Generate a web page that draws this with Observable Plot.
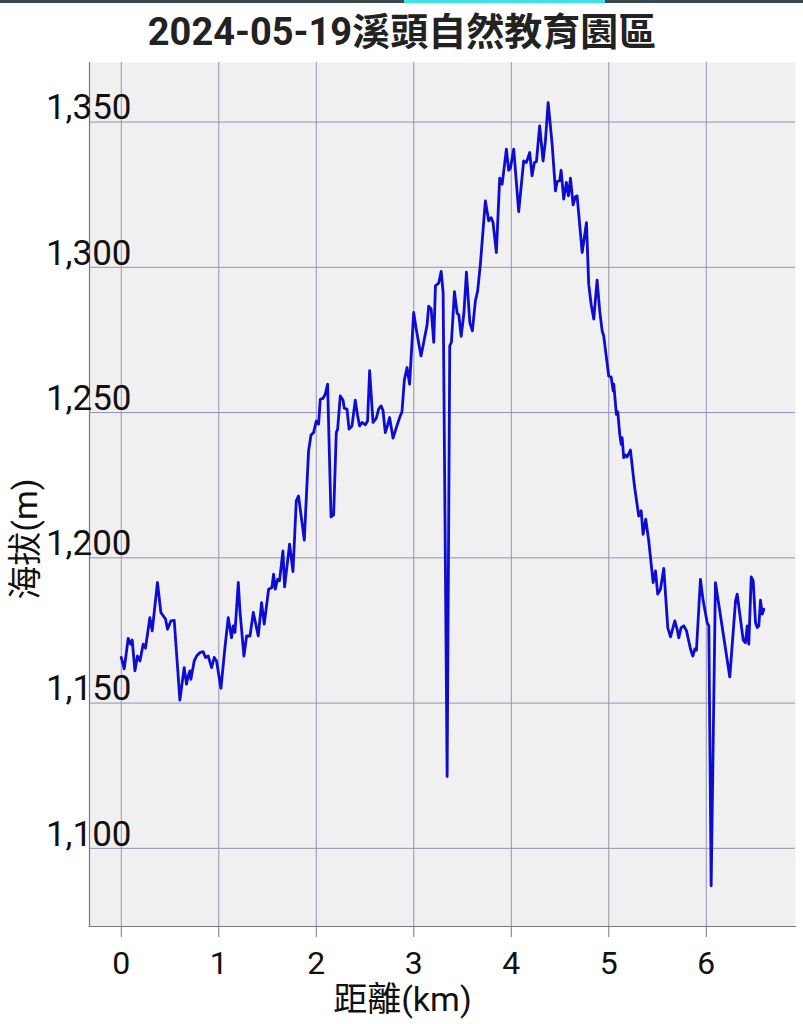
<!DOCTYPE html>
<html>
<head>
<meta charset="utf-8">
<script src="https://cdn.jsdelivr.net/npm/d3@7"></script>
<script src="https://cdn.jsdelivr.net/npm/@observablehq/plot@0.6"></script>
<style>
  html, body { margin: 0; padding: 0; background: #fff; }
  #wrap { position: relative; width: 803px; height: 1024px; overflow: hidden; }
  #bar { position: absolute; left: 0; top: 0; width: 803px; height: 3px; background: #3c4850; z-index: 2; }
  #bar span { position: absolute; left: 404px; width: 201px; top: 0; height: 3px; background: #3fe3e6; }
  #ylab { position: absolute; left: 25px; top: 539px; transform: translate(-50%, -50%) rotate(-90deg);
          font-family: Roboto, 'Noto Sans CJK TC', sans-serif; font-size: 34px; color: #111;
          white-space: nowrap; line-height: 1; z-index: 2; }
</style>
</head>
<body>
<div id="wrap"><div id="bar"><span></span></div><div id="ylab"></div></div>
<script>
const titleText = "2024-05-19溪頭自然教育園區";
const xLabelText = "距離(km)";
const yLabelText = "海拔(m)";
const xTicks = [0, 1, 2, 3, 4, 5, 6];
const yTicks = [1100, 1150, 1200, 1250, 1300, 1350];

const distanceKm = [
  0, 0.030, 0.071, 0.094, 0.112, 0.140, 0.166, 0.191, 0.225, 0.248,
  0.293, 0.317, 0.371, 0.406, 0.454, 0.474, 0.509, 0.543, 0.601, 0.645,
  0.669, 0.687, 0.704, 0.714, 0.748, 0.772, 0.807, 0.840, 0.864, 0.892,
  0.926, 0.953, 0.977, 1.022, 1.063, 1.097, 1.131, 1.148, 1.166, 1.200,
  1.217, 1.258, 1.285, 1.320, 1.354, 1.405, 1.439, 1.466, 1.511,
  1.545, 1.562, 1.579, 1.603, 1.623, 1.658, 1.675, 1.726, 1.761, 1.795,
  1.818, 1.877, 1.921, 1.946, 1.972, 2.000, 2.024, 2.041, 2.069, 2.092,
  2.116, 2.151, 2.178, 2.205, 2.219, 2.246, 2.274, 2.287, 2.315, 2.336,
  2.366, 2.400, 2.424, 2.444, 2.469, 2.503, 2.526, 2.547, 2.582, 2.616,
  2.639, 2.664, 2.684, 2.708, 2.732, 2.752, 2.787, 2.821, 2.855, 2.879,
  2.903, 2.931, 2.957,
  2.999, 3.027, 3.074, 3.102, 3.136, 3.153, 3.178, 3.205, 3.222, 3.256,
  3.281, 3.301, 3.342, 3.369, 3.386, 3.417, 3.445, 3.462, 3.486, 3.514, 3.540,
  3.575, 3.601, 3.632, 3.655, 3.683, 3.734, 3.768, 3.793, 3.813, 3.847,
  3.881, 3.906, 3.950, 3.973, 3.991, 4.025, 4.076, 4.127, 4.155, 4.189,
  4.213, 4.237, 4.258, 4.291, 4.326, 4.350, 4.378, 4.419, 4.453, 4.470,
  4.497, 4.511, 4.538, 4.565, 4.586, 4.607, 4.634, 4.658, 4.675, 4.727, 4.771,
  4.794, 4.819, 4.846, 4.880, 4.907, 4.932, 4.948, 4.966, 4.976, 4.999,
  5.024, 5.045, 5.051, 5.078, 5.092, 5.112, 5.127, 5.137, 5.153, 5.171,
  5.188, 5.222, 5.263, 5.307, 5.332, 5.352, 5.379, 5.410,
  5.455, 5.479, 5.502, 5.530, 5.564, 5.605, 5.633, 5.677, 5.701, 5.718,
  5.742, 5.769, 5.797, 5.838, 5.862, 5.882, 5.899, 5.940, 5.968, 6.009,
  6.026, 6.050, 6.094, 6.241, 6.300, 6.317, 6.344, 6.379, 6.402, 6.420,
  6.436, 6.461, 6.481, 6.505, 6.522, 6.539, 6.556, 6.574, 6.590
];

const elevationM = [
  1165.7, 1161.8, 1172.3, 1170.3, 1171.7, 1161.1, 1166.2, 1164.5, 1170.3, 1168.9,
  1179.4, 1174.9, 1191.5, 1181.2, 1178.9, 1175.4, 1178.3, 1178.5, 1151.0, 1162.2,
  1156.5, 1159.4, 1161.1, 1158.2, 1164.5, 1166.2, 1167.4, 1167.7, 1165.7, 1166.2,
  1162.2, 1165.7, 1164.5, 1155.1, 1169.1, 1179.4, 1172.5, 1176.6, 1174.3, 1191.5,
  1181.7, 1166.2, 1173.1, 1173.1, 1181.2, 1173.1, 1184.6, 1177.2, 1189.2,
  1189.8, 1194.4, 1189.2, 1192.6, 1192.1, 1202.4, 1190.0, 1204.7, 1195.3, 1219.6,
  1221.3, 1206.1, 1236.8, 1242.3, 1243.1, 1247.1, 1246.0, 1254.6, 1254.9, 1256.3,
  1259.8, 1214.1, 1214.8, 1243.1, 1244.3, 1255.7, 1254.3, 1251.5, 1251.2, 1244.3,
  1245.4, 1254.3, 1248.9, 1245.4, 1246.6, 1245.8, 1247.1, 1264.4, 1246.6, 1248.1,
  1251.2, 1252.3, 1250.8, 1243.1, 1245.8, 1248.3, 1241.2, 1244.8, 1248.3, 1250.3,
  1261.2, 1265.5, 1259.8,
  1284.5, 1278.3, 1269.5, 1274.2, 1280.1, 1286.6, 1285.7, 1274.2, 1293.6, 1294.6,
  1298.6, 1291.3, 1124.7, 1273.0, 1274.2, 1291.6, 1284.2, 1283.6, 1276.2, 1284.2, 1298.3,
  1280.9, 1278.1, 1288.5, 1291.9, 1301.1, 1322.9, 1316.0, 1317.1, 1315.4, 1305.1,
  1330.7, 1328.6, 1340.7, 1333.4, 1334.1, 1340.7, 1319.2, 1336.6, 1336.1, 1339.5,
  1331.5, 1336.1, 1336.4, 1348.7, 1336.6, 1343.5, 1356.7, 1342.4, 1326.3, 1329.5,
  1329.8, 1333.4, 1323.5, 1329.2, 1324.6, 1330.7, 1321.5, 1324.3, 1324.6, 1305.1, 1315.4,
  1294.2, 1287.3, 1282.2, 1295.6, 1285.0, 1278.1, 1276.4, 1271.5, 1268.9, 1262.6,
  1262.3, 1257.5, 1259.8, 1249.4, 1250.3, 1242.6, 1239.1, 1241.4, 1234.5, 1235.4,
  1234.7, 1237.1, 1224.8, 1214.4, 1216.2, 1208.1, 1213.3, 1205.8,
  1191.5, 1195.5, 1187.5, 1189.2, 1196.4, 1176.0, 1172.8, 1178.3, 1175.4, 1172.5,
  1176.0, 1176.6, 1174.9, 1168.6, 1166.2, 1168.6, 1168.2, 1192.6, 1185.2, 1177.7,
  1176.6, 1087.1, 1191.5, 1159.0, 1185.2, 1187.5, 1180.6, 1171.6, 1170.8, 1176.6,
  1170.3, 1193.4, 1192.1, 1177.7, 1176.0, 1176.6, 1185.4, 1180.6, 1182.3
];

const track = distanceKm.map((d, i) => ({km: d, m: elevationM[i]}));

const fontFamily = "Roboto, 'Noto Sans CJK TC', sans-serif";
const gridColor = "#9393b3";
const commaFormat = d3.format(",d");

const chart = Plot.plot({
  width: 803,
  height: 1024,
  marginTop: 62,
  marginRight: 8,
  marginBottom: 98,
  marginLeft: 89,
  style: {fontFamily, background: "transparent", color: "#111"},
  x: {domain: [-0.326, 6.915]},
  y: {domain: [1073.1, 1370.5]},
  marks: [
    Plot.frame({fill: "#f0f0f0", stroke: "none"}),
    Plot.gridX(xTicks, {stroke: gridColor, strokeOpacity: 1, strokeWidth: 1}),
    Plot.gridY(yTicks, {stroke: gridColor, strokeOpacity: 1, strokeWidth: 1}),
    Plot.frame({anchor: "left", stroke: "#7a7a7a", strokeWidth: 1.2}),
    Plot.frame({anchor: "bottom", stroke: "#7a7a7a", strokeWidth: 1.2}),
    Plot.axisX(xTicks, {tickSize: 11, tickPadding: 14, fontSize: 32, stroke: "#777", fill: "#111", label: null}),
    Plot.axisY(yTicks, {tickSize: 0, tickPadding: 0, dx: 42, dy: -14, fontSize: 35, fill: "#111", tickFormat: commaFormat, label: null}),
    Plot.line(track, {x: "km", y: "m", stroke: "#0c0cd2", strokeWidth: 2.8, strokeLinejoin: "round"}),
    Plot.text([titleText], {frameAnchor: "top", dx: -40.5, dy: -44, fontSize: 38, fontWeight: "bold", fill: "#222"}),
    Plot.text([xLabelText], {frameAnchor: "bottom", dx: -40, dy: 84, fontSize: 34, fill: "#111"})
  ]
});
const wrap = document.getElementById("wrap");
wrap.prepend(chart);
chart.style.position = "absolute";
chart.style.left = "0";
chart.style.top = "0";
document.getElementById("ylab").textContent = yLabelText;
</script>
</body>
</html>
